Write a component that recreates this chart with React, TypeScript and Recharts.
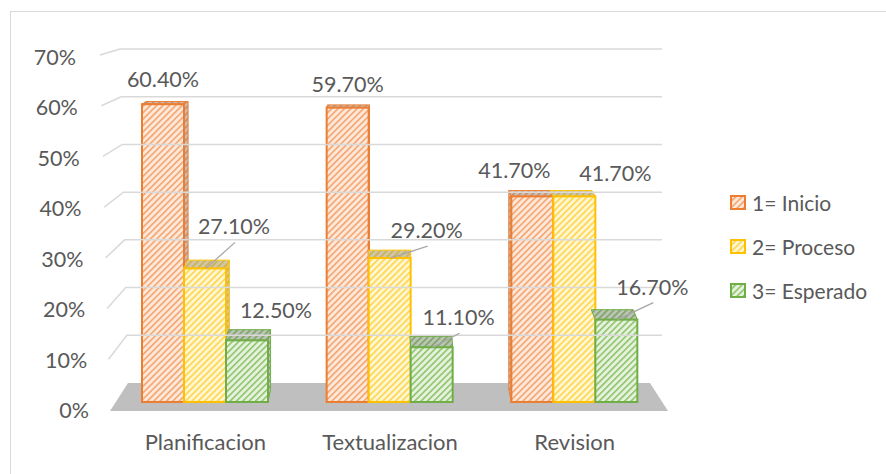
import React from 'react';
import { BarChart, Bar, XAxis, YAxis, ReferenceLine, ReferenceArea, LabelList } from 'recharts';

// ---------- data ----------
const categories = ['Planificacion', 'Textualizacion', 'Revision'];
const inicio = [60.4, 59.7, 41.7];
const proceso = [27.1, 29.2, 41.7];
const esperado = [12.5, 11.1, 16.7];
const seriesNames = ['1= Inicio', '2= Proceso', '3= Esperado'];
const yTicks = [0, 10, 20, 30, 40, 50, 60, 70];
const gridTicks = [10, 20, 30, 40, 50, 60, 70];

const data = categories.map((name, i) => ({
  name,
  inicio: inicio[i],
  proceso: proceso[i],
  esperado: esperado[i],
}));

// ---------- layout / style ----------
const CHART_W = 886;
const CHART_H = 474;
const MARGIN = { top: 47, right: 219, bottom: 0, left: 13 };
const Y_AXIS_W = 100;
const PLOT_LEFT = MARGIN.left + Y_AXIS_W;
const PLOT_W = CHART_W - PLOT_LEFT - MARGIN.right;
const VANISH_X = PLOT_LEFT + PLOT_W / 2;
const FONT = 'Lato, "Open Sans", sans-serif';
const TEXT = '#595959';
const FS_LABEL = 21.5;
const FS_TICK = 21.5;
const FS_CAT = 22;
const FS_LEGEND = 21;

const seriesStyles = [
  { key: 'inicio', stroke: '#ED7D31', bg: '#FDE8DA', line: '#F3A46F', id: 'hatchO',
    labelDx: [0, 0, -18], labelDy: [-25, -24, -26], leader: [false, false, false] },
  { key: 'proceso', stroke: '#FFC000', bg: '#FFF6D2', line: '#FFD54A', id: 'hatchY',
    labelDx: [29, 37, 41], labelDy: [-42, -28, -23], leader: [true, true, false] },
  { key: 'esperado', stroke: '#70AD47', bg: '#E6F2DD', line: '#8DC46A', id: 'hatchG',
    labelDx: [29, 27, 36], labelDy: [-30, -30, -33], leader: [false, true, true] },
];

const Patterns = () => (
  <svg width={0} height={0} style={{ position: 'absolute' }}>
    <defs>
      {seriesStyles.map((s) => (
        <pattern key={s.id} id={s.id} patternUnits="userSpaceOnUse" width={4.5} height={4.5}
          patternTransform="rotate(45)">
          <rect width={4.5} height={4.5} fill={s.bg} />
          <line x1={0.8} y1={0} x2={0.8} y2={4.5} stroke={s.line} strokeWidth={1.6} />
        </pattern>
      ))}
    </defs>
  </svg>
);

const makeShape = (s: any, si: number) => (props: any) => {
  const { x, y, width, height } = props;
  if (!height || height <= 0) return <g />;
  const bottom = y + height;
  const cx = x + width / 2;
  const d = 2.5 + (y - 100) * 0.034;
  const dB = 2.5 + (bottom - 100) * 0.034;
  const sw = (VANISH_X - cx) * 0.018;
  const shade = 'rgba(90,90,90,0.3)';
  let side: string | null = null;
  if (sw > 0.5) {
    side = `${x + width},${y} ${x + width + sw},${y - d} ${x + width + sw},${bottom - dB} ${x + width},${bottom}`;
  } else if (sw < -0.5 && si === 0) {
    side = `${x},${y} ${x + sw},${y - d} ${x + sw},${bottom - dB} ${x},${bottom}`;
  }
  const top = `${x},${y} ${x + width},${y} ${x + width + sw},${y - d} ${x + sw},${y - d}`;
  return (
    <g>
      {side && (
        <g>
          <polygon points={side} fill={`url(#${s.id})`} />
          <polygon points={side} fill={shade} stroke={s.stroke} strokeWidth={1} />
        </g>
      )}
      <polygon points={top} fill={`url(#${s.id})`} />
      <polygon points={top} fill={shade} stroke={s.stroke} strokeWidth={1} />
      <rect x={x} y={y} width={width} height={height} fill={`url(#${s.id})`} stroke={s.stroke} strokeWidth={2} />
    </g>
  );
};

const makeLabel = (s: any) => (props: any) => {
  const { x, y, width, value, index } = props;
  const cx = Number(x) + Number(width) / 2;
  const ty = Number(y);
  const lx = cx + s.labelDx[index];
  const ly = ty + s.labelDy[index];
  return (
    <g>
      {s.leader[index] && (
        <line x1={cx + 1} y1={ty} x2={lx + 1} y2={ly + 16} stroke="#A6A6A6" strokeWidth={1.3} />
      )}
      <text x={lx} y={ly} textAnchor="middle" dominantBaseline="central" fontSize={FS_LABEL}
        fontFamily={FONT} fill={TEXT}>
        {Number(value).toFixed(2)}%
      </text>
    </g>
  );
};

const YTick = (props: any) => {
  const { y, payload } = props;
  const v = payload.value;
  const f = (70 - v) / 70;
  return (
    <text x={PLOT_LEFT - 37 + f * 13} y={y + f * 8} textAnchor="end" dominantBaseline="central"
      fontSize={FS_TICK} fontFamily={FONT} fill={TEXT}>
      {v}%
    </text>
  );
};

const makeGridShape = (v: number) => (props: any) => {
  const { x1, y1, x2 } = props;
  const f = (70 - v) / 70;
  const bx = x1 + 7 + f * 8;
  const fx = x1 - 13 + f * 10;
  const rise = 6 + (70 - v) * 0.3;
  return (
    <path d={`M${fx},${y1 + rise} L${bx},${y1} L${x2 - 5},${y1}`} fill="none" stroke="#D9D9D9" strokeWidth={1.5} />
  );
};

const FloorShape = (props: any) => {
  const { x, y, width, height } = props;
  const pts = `${x + 15},${y} ${x + width - 17},${y} ${x + width + 1},${y + height} ${x - 3},${y + height}`;
  return <polygon points={pts} fill="#BFBFBF" />;
};

const Legend3 = () => (
  <div style={{ position: 'absolute', left: 730, top: 191, fontFamily: FONT, fontSize: FS_LEGEND, color: TEXT }}>
    {seriesStyles.map((s, i) => (
      <div key={s.key} style={{ display: 'flex', alignItems: 'center', height: 22, marginBottom: i < 2 ? 22 : 0 }}>
        <svg width={17} height={15} style={{ marginRight: 5 }}>
          <rect x={1} y={1} width={14} height={13} fill={`url(#${s.id})`} stroke={s.stroke} strokeWidth={2} />
        </svg>
        <span style={{ whiteSpace: 'nowrap' }}>{seriesNames[i]}</span>
      </div>
    ))}
  </div>
);

export default function App() {
  return (
    <div style={{ position: 'absolute', left: 0, top: 0, width: CHART_W, height: CHART_H, overflow: 'hidden', background: '#fff' }}>
      <Patterns />
      <div style={{ position: 'absolute', left: 10, top: 11, width: 900, height: 500, border: '1px solid #D9D9D9' }} />
      <div style={{ position: 'absolute', left: 0, top: 0 }}>
        <BarChart width={CHART_W} height={CHART_H} data={data} margin={MARGIN} barGap={0} barSize={42}>
          <XAxis dataKey="name" axisLine={false} tickLine={false} tickSize={0} tickMargin={23} height={63}
            tick={{ fontSize: FS_CAT, fontFamily: FONT, fill: TEXT }} interval={0} />
          <YAxis yAxisId="main" type="number" domain={[-1.83, 72]} allowDataOverflow ticks={yTicks}
            axisLine={false} tickLine={false} tickSize={0} tickMargin={0} width={Y_AXIS_W} tick={<YTick />} />
          <YAxis yAxisId="grid" type="number" domain={[-5.87, 70.42]} allowDataOverflow hide />
          <ReferenceArea yAxisId="grid" y1={-5.87} y2={0} ifOverflow="visible" shape={FloorShape} />
          {gridTicks.map((v) => (
            <ReferenceLine key={v} yAxisId="grid" y={v} ifOverflow="visible" shape={makeGridShape(v)} />
          ))}
          {seriesStyles.map((s, si) => (
            <Bar key={s.key} yAxisId="main" dataKey={s.key} name={seriesNames[si]} isAnimationActive={false}
              shape={makeShape(s, si)}>
              <LabelList dataKey={s.key} content={makeLabel(s)} />
            </Bar>
          ))}
        </BarChart>
      </div>
      <Legend3 />
    </div>
  );
}
